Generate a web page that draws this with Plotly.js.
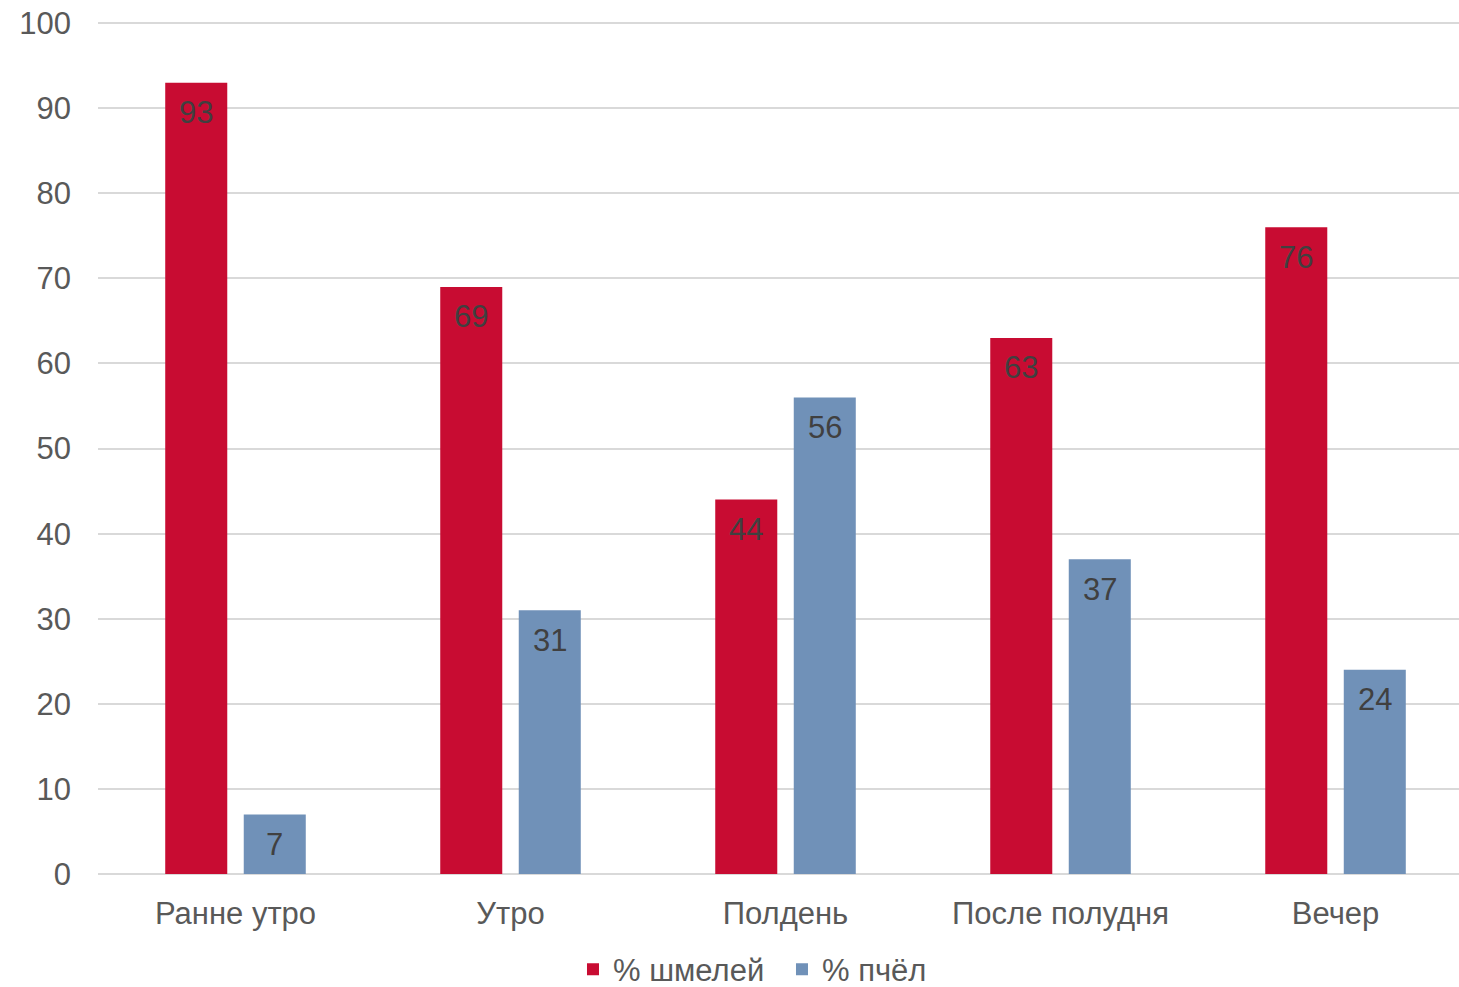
<!DOCTYPE html>
<html>
<head>
<meta charset="utf-8">
<script src="https://cdn.plot.ly/plotly-3.0.1.min.js"></script>
<style>html,body{margin:0;padding:0;background:#fff;}#chart{width:1459px;height:987px;}</style>
</head>
<body>
<div id="chart"></div>
<script>
const categories = ["Ранне утро", "Утро", "Полдень", "После полудня", "Вечер"];
const bumblebees = [93, 69, 44, 63, 76];
const bees = [7, 31, 56, 37, 24];
const seriesNames = ["% шмелей", "% пчёл"];
const yTicks = [0, 10, 20, 30, 40, 50, 60, 70, 80, 90, 100];

const RED = "#C80C32";
const BLUE = "#7091B8";
const FONT = "Liberation Sans, Arial, sans-serif";
const FS = 31;

const traces = [
  {type: "bar", name: seriesNames[0], x: categories, y: bumblebees, marker: {color: RED, line: {width: 0}}, hoverinfo: "none"},
  {type: "bar", name: seriesNames[1], x: categories, y: bees, marker: {color: BLUE, line: {width: 0}}, hoverinfo: "none"}
];

const SHIFT = 39.25;
const annotations = [];
[bumblebees, bees].forEach((vals, si) => {
  vals.forEach((v, i) => {
    annotations.push({
      x: categories[i], y: v, xref: "x", yref: "y",
      text: String(v), showarrow: false,
      xshift: si === 0 ? -SHIFT : SHIFT, yshift: -30,
      yanchor: "middle", xanchor: "center",
      font: {family: FONT, size: FS, color: "#404040"}
    });
  });
});

const layout = {
  width: 1459, height: 987,
  margin: {l: 98, r: 0, t: 21, b: 113, autoexpand: false},
  paper_bgcolor: "#fff", plot_bgcolor: "#fff",
  barmode: "group", bargap: 0.429, bargroupgap: 0.21,
  font: {family: FONT, size: FS, color: "#595959"},
  xaxis: {
    type: "category", range: [-0.5, 4.449],
    showgrid: false, showline: false, zeroline: false,
    ticks: "", tickfont: {family: FONT, size: FS, color: "#595959"},
    ticklabelstandoff: 18, automargin: false
  },
  yaxis: {
    range: [0, 100.25], tickvals: yTicks, ticktext: yTicks.map(String),
    showgrid: true, gridcolor: "#D9D9D9", gridwidth: 2,
    zeroline: true, zerolinecolor: "#D9D9D9", zerolinewidth: 2,
    showline: false, ticks: "",
    tickfont: {family: FONT, size: FS, color: "#595959"},
    ticklabelstandoff: 26, automargin: false
  },
  showlegend: true,
  legend: {
    orientation: "h", x: 0.349, xanchor: "left", y: -0.112, yanchor: "middle",
    entrywidth: 164, entrywidthmode: "pixels",
    font: {family: FONT, size: FS, color: "#595959"}, itemclick: false
  },
  annotations: annotations
};

Plotly.newPlot("chart", traces, layout, {displayModeBar: false, staticPlot: true});
</script>
</body>
</html>
